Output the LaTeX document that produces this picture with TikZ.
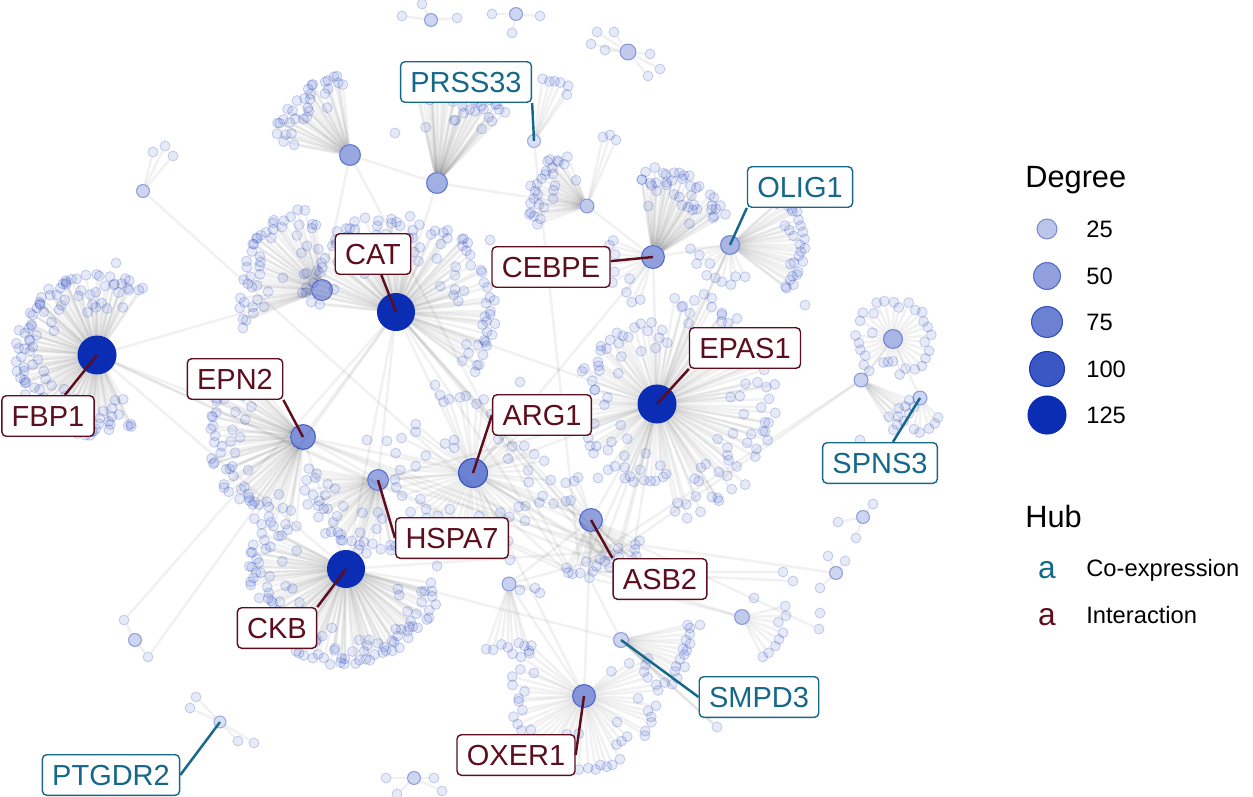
\documentclass[tikz,border=0pt]{standalone}
\usepackage{fontspec}
\setmainfont{Liberation Sans}
\usetikzlibrary{backgrounds}
\definecolor{netblue}{RGB}{10,45,180}
\definecolor{coexp}{RGB}{22,104,138}
\definecolor{inter}{RGB}{92,14,30}
\tikzset{
  leaf/.style={circle,inner sep=0pt,minimum size=0.2cm,fill=netblue,fill opacity=0.1,
    draw=netblue,draw opacity=0.2,line width=0.5pt},
  hub/.style n args={3}{circle,inner sep=0pt,minimum size=#1*0.02cm,fill=netblue,
    fill opacity=#2,draw=netblue,draw opacity=#3,line width=0.6pt},
  link/.style={draw=black,draw opacity=0.055,line width=1.4pt},
  genebox/.style={draw=#1,text=#1,fill=white,rounded corners=2.5pt,line width=0.8pt,
    inner xsep=5.6pt,inner ysep=5.4pt,text height=12pt,text depth=0.3pt,
    font=\fontsize{16.5}{19}\selectfont},
  coexbox/.style={genebox=coexp},
  interbox/.style={genebox=inter},
  pointer/.style={draw=#1,line width=1.4pt},
  legtitle/.style={anchor=base west,inner sep=0pt,font=\fontsize{17.5}{20}\selectfont},
  legtext/.style={inner sep=0pt,font=\fontsize{13.5}{16}\selectfont},
  legmark/.style={inner sep=0pt,anchor=base,font=\fontsize{18}{20}\selectfont},
}
% fan of leaves round a hub: tag, x, y, first angle, last angle, count, rmin, rmax
\newcommand{\leaffan}[8]{%
  \foreach \i in {1,...,#6}{
    \pgfmathsetmacro\fanang{#4+(#5-#4)/#6*(\i-0.5)+rand*2}
    \pgfmathsetmacro\fanrad{#8-rnd*rnd*(#8-#7)}
    \pgfmathsetmacro\fanx{#2+\fanrad*cos(\fanang)}
    \pgfmathsetmacro\fany{#3-\fanrad*sin(\fanang)}
    \node[leaf] (#1\i) at (\fanx,\fany) {};
  }}
% links from a hub to its fan: hub, tag, count
\newcommand{\fanlinks}[3]{\foreach \i in {1,...,#3}{\draw[link] (#1) -- (#2\i);}}
\def\smallleaves{hubT2/t21/402/16,hubT2/t22/422/4,hubT2/t23/457/18,
  hubT3/t31/492/14,hubT3/t32/540/16,hubT3/t33/512/33,
  hubT1/t11/597/32,hubT1/t12/614/32,hubT1/t13/591/44,hubT1/t14/605/50,
  hubT1/t15/650/54,hubT1/t16/660/69,hubT1/t17/648/76,
  hubL1/l11/153/152,hubL1/l12/165/146,hubL1/l13/173/156,
  hubC1/c11/124/620,hubC1/c12/148/657,
  PTGDR2/pg1/196/697,PTGDR2/pg2/190/708,PTGDR2/pg3/238/741,PTGDR2/pg4/254/743,
  hubB1/bb1/386/778,hubB1/bb2/434/778,hubB1/bb3/442/791,hubB1/bb4/397/794,
  hubR1/r11/838/522,hubR1/r12/873/504,hubR1/r13/856/538,
  hubR2/r21/828/556,hubR2/r22/845/561,hubR2/r23/820/588,
  b7/b71/783/572,b7/b72/793/581,b19/b91/819/629,
  hubS2/g9/520/590,hubS2/g10/535/588,hubS2/g11/540/593,
  hubN3/s91/603/137,hubN3/s92/610/135,hubN3/s93/616/140,SMPD3/sm9/717/727}
\begin{document}
\begin{tikzpicture}[x=0.02cm,y=-0.02cm]
\useasboundingbox (0,0) rectangle (1253,797);
\pgfmathsetseed{7}
% hub genes
\node[hub={38}{1}{1}] (FBP1) at (97,355) {};
\node[hub={37}{1}{1}] (CAT) at (396,312) {};
\node[hub={37}{1}{1}] (CKB) at (346,569) {};
\node[hub={38}{1}{1}] (EPAS1) at (657,404) {};
\node[hub={29}{0.6}{0.75}] (ARG1) at (473,473) {};
\node[hub={25}{0.52}{0.65}] (EPN2) at (303,437) {};
\node[hub={21}{0.42}{0.55}] (HSPA7) at (378,480) {};
\node[hub={23}{0.45}{0.6}] (ASB2) at (591,520) {};
\node[hub={23}{0.5}{0.62}] (OXER1) at (584,696) {};
\node[hub={23}{0.45}{0.6}] (CEBPE) at (653,257) {};
\node[hub={19}{0.35}{0.5}] (OLIG1) at (730,245) {};
\node[hub={13}{0.15}{0.35}] (PRSS33) at (534,141) {};
\node[hub={14}{0.2}{0.4}] (SPNS3) at (920,398) {};
\node[hub={15}{0.2}{0.4}] (SMPD3) at (621,640) {};
\node[hub={12}{0.15}{0.35}] (PTGDR2) at (220,722) {};
% other hubs
\node[hub={21}{0.4}{0.55}] (hubW) at (322,290) {};
\node[hub={21}{0.42}{0.55}] (hubN1) at (350,155) {};
\node[hub={21}{0.38}{0.55}] (hubN2) at (437,183) {};
\node[hub={14}{0.25}{0.4}] (hubN3) at (587,206) {};
\node[hub={19}{0.35}{0.5}] (hubE1) at (893,339) {};
\node[hub={14}{0.22}{0.4}] (hubE2) at (861,380) {};
\node[hub={15}{0.25}{0.4}] (hubS1) at (742,617) {};
\node[hub={14}{0.22}{0.4}] (hubS2) at (509,584) {};
\node[hub={13}{0.2}{0.4}] (hubL1) at (143,191) {};
\node[hub={16}{0.25}{0.4}] (hubT1) at (628,52) {};
\node[hub={13}{0.2}{0.4}] (hubT2) at (431,20) {};
\node[hub={13}{0.2}{0.4}] (hubT3) at (516,14) {};
\node[hub={13}{0.2}{0.4}] (hubC1) at (135,640) {};
\node[hub={13}{0.2}{0.4}] (hubB1) at (414,778) {};
\node[hub={13}{0.2}{0.4}] (hubR1) at (863,517) {};
\node[hub={13}{0.2}{0.4}] (hubR2) at (836,573) {};
% bridge nodes
\foreach \n/\bx/\by in {b1/243/328,b2/116/263,b3/395/133,b4/490/240,b5/805/305,
  b6/700/625,b7/754/598,b8/860/440,b11/367/440,b12/387/441,b13/435/385,b14/440/395,
  b15/520/382,b16/598/478,b17/437/566,b18/510/560,b19/820/613}
  \node[leaf] (\n) at (\bx,\by) {};
% fans
\leaffan{f}{97}{355}{55}{300}{120}{35}{82}
\leaffan{w}{322}{290}{95}{205}{45}{35}{85}
\leaffan{c}{396}{312}{-40}{175}{95}{40}{100}
\leaffan{e}{303}{437}{130}{265}{60}{40}{95}
\leaffan{h}{378}{480}{170}{290}{40}{30}{75}
\leaffan{a}{473}{473}{-60}{300}{55}{25}{80}
\leaffan{k}{346}{569}{150}{350}{105}{50}{97}
\leaffan{p}{657}{404}{-80}{80}{70}{50}{120}
\leaffan{q}{657}{404}{80}{280}{60}{35}{82}
\leaffan{ce}{653}{257}{30}{100}{40}{45}{90}
\leaffan{cf}{653}{257}{150}{260}{10}{30}{50}
\leaffan{o}{730}{245}{-40}{45}{28}{45}{75}
\leaffan{oa}{730}{245}{180}{300}{10}{20}{40}
\leaffan{n}{350}{155}{95}{170}{32}{45}{80}
\leaffan{m}{437}{183}{45}{105}{38}{50}{100}
\leaffan{r}{534}{141}{50}{85}{6}{45}{65}
\leaffan{s}{587}{206}{110}{200}{28}{25}{60}
\leaffan{b}{591}{520}{240}{340}{20}{30}{60}
\leaffan{ba}{591}{520}{100}{160}{6}{25}{45}
\leaffan{x}{584}{696}{135}{405}{50}{30}{75}
\leaffan{sm}{621}{640}{-45}{15}{15}{50}{70}
\leaffan{t}{742}{617}{-70}{20}{8}{25}{45}
\leaffan{g}{509}{584}{250}{290}{8}{55}{70}
\leaffan{u}{893}{339}{-60}{300}{30}{16}{40}
\leaffan{v}{861}{380}{-60}{-20}{10}{30}{60}
\leaffan{sp}{920}{398}{250}{320}{5}{15}{35}
% small leaves
\foreach \hb/\n/\lx/\ly in \smallleaves
  \node[leaf] (\n) at (\lx,\ly) {};
% all links, under the nodes
\begin{pgfonlayer}{background}
\fanlinks{FBP1}{f}{120}
\fanlinks{hubW}{w}{45}
\fanlinks{CAT}{c}{95}
\fanlinks{EPN2}{e}{60}
\fanlinks{HSPA7}{h}{40}
\fanlinks{ARG1}{a}{55}
\fanlinks{CKB}{k}{105}
\fanlinks{EPAS1}{p}{70}
\fanlinks{EPAS1}{q}{60}
\fanlinks{CEBPE}{ce}{40}
\fanlinks{CEBPE}{cf}{10}
\fanlinks{OLIG1}{o}{28}
\fanlinks{OLIG1}{oa}{10}
\fanlinks{hubN1}{n}{32}
\fanlinks{hubN2}{m}{38}
\fanlinks{PRSS33}{r}{6}
\fanlinks{hubN3}{s}{28}
\fanlinks{ASB2}{b}{20}
\fanlinks{ASB2}{ba}{6}
\fanlinks{OXER1}{x}{50}
\fanlinks{SMPD3}{sm}{15}
\fanlinks{hubS1}{t}{8}
\fanlinks{hubS2}{g}{8}
\fanlinks{hubE1}{u}{30}
\fanlinks{hubE2}{v}{10}
\fanlinks{SPNS3}{sp}{5}
\foreach \hb/\n/\lx/\ly in \smallleaves
  \draw[link] (\hb) -- (\n);
\foreach \u/\v in {FBP1/b1,b1/CAT,FBP1/b2,b2/hubL1,FBP1/EPN2,FBP1/CKB,FBP1/hubW,
  CAT/hubW,CAT/hubN2,CAT/EPN2,CAT/HSPA7,CAT/CKB,CAT/ARG1,CAT/EPAS1,CAT/b11,CAT/b12,
  CAT/b13,CAT/b14,hubN1/hubN2,hubN1/b3,hubN1/hubW,hubN2/hubN3,PRSS33/b4,b4/b13,
  hubN3/CEBPE,CEBPE/EPAS1,CEBPE/OLIG1,CEBPE/ARG1,OLIG1/EPAS1,OLIG1/b5,b5/hubE2,
  hubE2/hubE1,hubE1/SPNS3,hubE2/b8,EPAS1/b8,EPAS1/ARG1,EPAS1/ASB2,EPAS1/HSPA7,
  EPAS1/b15,b15/EPN2,b14/EPAS1,ARG1/ASB2,ARG1/HSPA7,ARG1/EPN2,ARG1/b13,ARG1/OXER1,
  ASB2/OXER1,ASB2/hubS2,hubS2/OXER1,CKB/SMPD3,CKB/HSPA7,CKB/EPN2,HSPA7/EPN2,
  EPN2/b11,EPN2/b12,ARG1/b12,SMPD3/b6,b6/hubS1,hubS1/b7,b16/ASB2,b16/EPAS1,
  HSPA7/b17,b18/hubS2,CKB/b18,b18/ARG1,hubR2/b19}
  \draw[link] (\u) -- (\v);
\end{pgfonlayer}
% gene labels
\node[coexbox] (lPRSS33) at (466,82) {PRSS33};
\node[coexbox] (lOLIG1) at (800,187) {OLIG1};
\node[coexbox] (lSPNS3) at (880,463) {SPNS3};
\node[coexbox] (lSMPD3) at (759,697) {SMPD3};
\node[coexbox] (lPTGDR2) at (111,775) {PTGDR2};
\node[interbox] (lCAT) at (373,254) {CAT};
\node[interbox] (lCEBPE) at (551,267) {CEBPE};
\node[interbox] (lEPAS1) at (745,348) {EPAS1};
\node[interbox] (lEPN2) at (235,379) {EPN2};
\node[interbox] (lFBP1) at (48,416) {FBP1};
\node[interbox] (lARG1) at (542,415) {ARG1};
\node[interbox] (lHSPA7) at (452,538) {HSPA7};
\node[interbox] (lASB2) at (660,579) {ASB2};
\node[interbox] (lCKB) at (277,628) {CKB};
\node[interbox] (lOXER1) at (516,755) {OXER1};
\draw[pointer=coexp] (PRSS33.center) -- (lPRSS33.south east);
\draw[pointer=coexp] (OLIG1.center) -- (lOLIG1.south west);
\draw[pointer=coexp] (SPNS3.center) -- (lSPNS3);
\draw[pointer=coexp] (SMPD3.center) -- (lSMPD3.west);
\draw[pointer=coexp] (PTGDR2.center) -- (lPTGDR2.east);
\draw[pointer=inter] (CAT.center) -- (lCAT);
\draw[pointer=inter] (CEBPE.center) -- (lCEBPE);
\draw[pointer=inter] (EPAS1.center) -- (lEPAS1.south west);
\draw[pointer=inter] (EPN2.center) -- (lEPN2.south east);
\draw[pointer=inter] (FBP1.center) -- (lFBP1);
\draw[pointer=inter] (ARG1.center) -- (lARG1.west);
\draw[pointer=inter] (HSPA7.center) -- (lHSPA7.west);
\draw[pointer=inter] (ASB2.center) -- (lASB2.north west);
\draw[pointer=inter] (CKB.center) -- (lCKB.north east);
\draw[pointer=inter] (OXER1.center) -- (lOXER1.east);
% legend
\node[legtitle] (degtitle) at (1025,188) {Degree};
\foreach \d/\s/\f/\o/\ly in {25/20/0.28/0.45/229,50/27/0.45/0.6/276,75/31/0.6/0.75/322,
  100/35/0.8/0.9/369,125/38/1/1/415}{
  \node[hub={\s}{\f}{\o}] (key\d) at (1047,\ly) {};
  \node[legtext,anchor=west] (keytext\d) at (1086,\ly) {\d};
}
\node[legtitle] (hubtitle) at (1025,527) {Hub};
\node[legmark,text=coexp] (keycoexp) at (1047,578) {a};
\node[legtext,anchor=base west] (keycoexptext) at (1086,576) {Co-expression};
\node[legmark,text=inter] (keyinter) at (1047,625) {a};
\node[legtext,anchor=base west] (keyintertext) at (1086,623) {Interaction};
\end{tikzpicture}
\end{document}
